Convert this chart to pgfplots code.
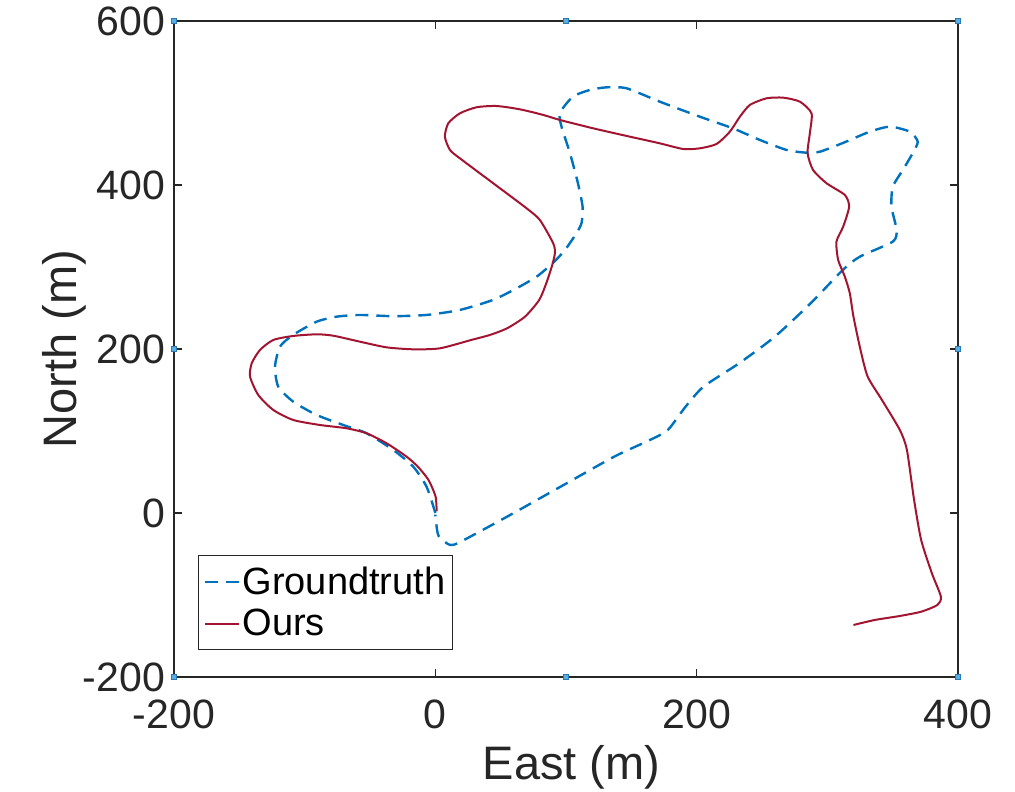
\documentclass[border=0pt]{standalone}
\usepackage{pgfplots}
\pgfplotsset{compat=1.18}
\usepackage{fontspec}
\setmainfont{Liberation Sans}
\definecolor{gtblue}{HTML}{0072BD}
\definecolor{oursred}{HTML}{A2142F}
\definecolor{axgray}{HTML}{262626}
\definecolor{hfill}{HTML}{5AAEE0}
\definecolor{hdraw}{HTML}{2A7AB8}

\begin{document}
\begin{tikzpicture}
\begin{axis}[
    name=ax,
    scale only axis,
    width=392bp, height=328bp,
    xmin=-200, xmax=400, ymin=-200, ymax=600,
    xtick={-200,0,200,400}, ytick={-200,0,200,400,600},
    tick align=inside,
    major tick length=4bp,
    axis line style={axgray, line width=0.7bp},
    every tick/.style={axgray, line width=0.7bp},
    /pgf/number format/assume math mode=true,
    ticklabel style={font=\fontsize{20.5bp}{24bp}\selectfont, text=axgray},
    xticklabel style={yshift=-8bp},
    yticklabel style={xshift=-1bp},
    xlabel={East (m)}, ylabel={North (m)},
    label style={font=\fontsize{23.5bp}{28bp}\selectfont, text=axgray},
    xlabel style={at={(axis description cs:0.507,-0.137)}, anchor=center},
    ylabel style={at={(axis description cs:-0.14,0.5)}, anchor=center},
    clip=false,
    legend cell align=left,
    legend style={at={(0.031,0.041)}, anchor=south west,
        draw=axgray, line width=0.5bp, inner sep=2.5bp,
        font=\fontsize{19bp}{23bp}\selectfont,
        nodes={inner ysep=3bp, inner xsep=1.2bp}},
    legend image code/.code={\draw[#1] (0bp,0bp) -- (17bp,0bp);},
]
\addplot[gtblue, line width=1.2bp, dash pattern=on 6.5bp off 4bp, smooth, tension=0.4] coordinates {
(0,0) (-6.7,32) (-16.9,56.5) (-32.2,76.8) (-52.6,97.2) (-70.5,107.3)
(-90.8,119.5) (-108.7,135.7) (-120.2,154) (-122.7,178.4) (-118.9,202.8)
(-109,217) (-90.8,233.3) (-75.5,239.4) (-57.7,241.5) (-32.4,240)
(-6.7,241.5) (18.8,247.6) (44.1,259.8) (62.2,274) (77.5,288.2)
(90,304.9) (99.2,320.7) (108.1,341.5) (111.9,353.7) (112.7,373.5)
(109.1,402.4) (103,439) (96.6,471) (95.3,487.8) (105.3,507.7)
(118.3,515.9) (131.1,519.1) (146.4,517.9) (171.8,501.6) (202.4,483.3)
(227.7,469.1) (248.4,454.9) (268.8,442.7) (284.1,439.4) (294.3,440.6)
(311.9,451.2) (332.5,465) (347.8,471.1) (363.1,465) (369.2,452.8)
(365.4,439) (357.8,418.3) (350.1,397.9) (349.1,373.5) (353,345.1)
(350.1,330.9) (324.9,312.6) (311.8,296.3) (287.2,255.7) (259.8,215)
(232.5,182.6) (205.2,154) (191.5,129.6) (177.9,101.2) (164.2,89)
(136.9,68.7) (95.9,32.1) (54.9,-4.5) (19.4,-35) (11.2,-39)
(2.5,-28) (0.5,-10) (0,-2)
};
\addlegendentry{Groundtruth}
\addplot[oursred, line width=1bp, smooth, tension=0.4] coordinates {
(1,2) (0.2,19.9) (-5.2,40.2) (-13.4,56.5) (-22,68.7) (-37.3,85)
(-52.6,97.2) (-67.9,103.3) (-88.3,107.3) (-108.7,113.4) (-124,125.6)
(-135.5,143.9) (-141.8,166.2) (-140.5,182.6) (-134.2,198.8) (-124,211)
(-108.7,215.9) (-90.8,217.9) (-78.1,216.2) (-57.7,208.9) (-37.3,202)
(-16.9,199.6) (3.5,200.8) (27.5,211) (41.8,217.1) (54.9,225.2)
(68.6,239.4) (79.5,259.8) (84.9,280.1) (89.1,300.4) (91.5,316.7)
(90.2,328.9) (80,357.3) (69.8,371.6) (44.3,402.1) (18.8,432.5)
(11.2,442.7) (7.3,458.9) (9.9,475.2) (18.8,487.4) (31.6,494.8)
(46.9,496.3) (64.7,492.3) (82.6,485.4) (95.3,479.3) (120.8,469.1)
(146.4,459.8) (171.8,450.8) (189.7,443.9) (202.4,444.7) (215.2,450)
(225.4,465) (233.1,483.3) (240.7,497.6) (253.5,505.7) (266.2,506.5)
(279,501.6) (287.9,487.4) (286.6,463) (284.9,438.7) (289.1,418.3)
(299.4,402.1) (313.4,387.8) (316.7,373.5) (312.1,349.1) (307,330.9)
(308.3,308.5) (313.4,288.2) (317.2,267.9) (320,239.4) (325.4,198.8)
(330.9,166.2) (341.8,137.8) (355.5,101.2) (360.9,76.8) (366.4,15.9)
(371.8,-32.9) (380,-73.5) (386.9,-102) (384.2,-112.2) (371.8,-120.4)
(355.5,-125.6) (336.3,-130.5) (320,-136.6)
};
\addlegendentry{Ours}
% selection handles on the axes box
\addplot[only marks, mark=square*, mark size=1.3bp,
    mark options={fill=hfill, draw=hdraw, line width=0.3bp}, forget plot] coordinates {
(-200,600) (100,600) (400,600) (-200,200) (400,200)
(-200,-200) (100,-200) (400,-200)
};
\end{axis}
\pgfresetboundingbox
\useasboundingbox ([shift={(-87bp,-57.5bp)}]ax.south west) rectangle ([shift={(28.5bp,10.5bp)}]ax.north east);
\end{tikzpicture}
\end{document}
